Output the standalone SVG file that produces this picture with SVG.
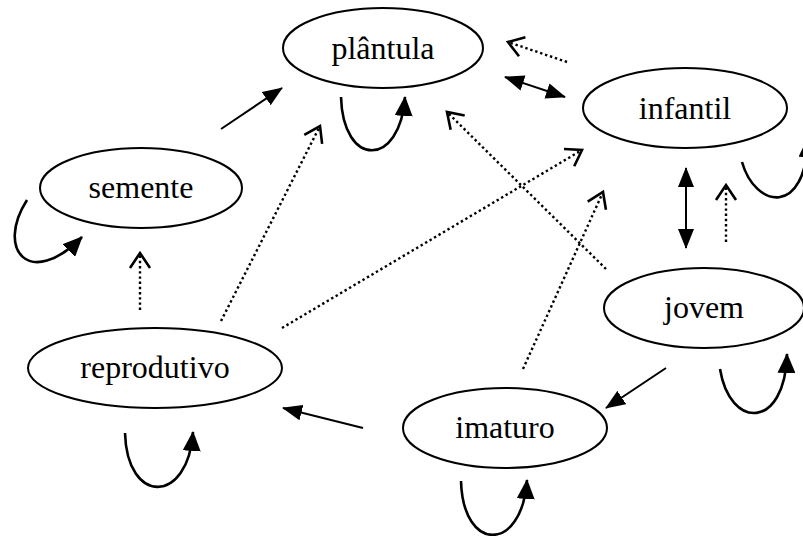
<svg xmlns="http://www.w3.org/2000/svg" width="803" height="536" viewBox="0 0 803 536">
<style>
.node ellipse{fill:#fff;stroke:#000;stroke-width:2}
.node text{font-family:"Liberation Serif","Times New Roman",serif;font-size:32px;text-anchor:middle;fill:#000}
.solid{fill:none;stroke:#000;stroke-width:2}
.loop{fill:none;stroke:#000;stroke-width:2.6}
.dot{fill:none;stroke:#000;stroke-width:2.4;stroke-dasharray:2.4 2.8}
</style>
<defs>
<marker id="fa" markerUnits="userSpaceOnUse" markerWidth="20" markerHeight="16" refX="19" refY="8" orient="auto-start-reverse" viewBox="0 0 20 16">
<path d="M0,0 L20,8 L0,16 z" fill="#000"/>
</marker>
<marker id="la" markerUnits="userSpaceOnUse" markerWidth="20" markerHeight="18" refX="19" refY="9" orient="auto" viewBox="0 0 20 18">
<path d="M0,0 L20,9 L0,18 z" fill="#000"/>
</marker>
<marker id="oa" markerUnits="userSpaceOnUse" markerWidth="22" markerHeight="24" refX="17" refY="12" orient="auto" viewBox="0 0 22 24">
<path d="M2,2 L17,12 L2,22" fill="none" stroke="#000" stroke-width="2.6"/>
</marker>
</defs>
<g id="connectors">
<line class="solid" x1="221" y1="129" x2="282" y2="88" marker-end="url(#fa)"/>
<line class="solid" x1="505" y1="77" x2="565" y2="97" marker-start="url(#fa)" marker-end="url(#fa)"/>
<line class="solid" x1="686" y1="168" x2="686" y2="248" marker-start="url(#fa)" marker-end="url(#fa)"/>
<line class="solid" x1="666" y1="368" x2="606" y2="408" marker-end="url(#fa)"/>
<line class="solid" x1="363" y1="428" x2="283" y2="408" marker-end="url(#fa)"/>
<line class="dot" x1="567" y1="62" x2="508" y2="42" marker-end="url(#oa)"/>
<line class="dot" x1="726" y1="242" x2="726" y2="185" marker-end="url(#oa)"/>
<line class="dot" x1="140" y1="310" x2="140" y2="253" marker-end="url(#oa)"/>
<line class="dot" x1="221" y1="321" x2="320" y2="126" marker-end="url(#oa)"/>
<line class="dot" x1="282" y1="328" x2="582" y2="150" marker-end="url(#oa)"/>
<line class="dot" x1="606" y1="269" x2="447" y2="112" marker-end="url(#oa)"/>
<line class="dot" x1="523" y1="369" x2="603" y2="192" marker-end="url(#oa)"/>
<path class="loop" d="M341,97 C343,168 400,168 405,97" marker-end="url(#la)"/>
<path class="loop" d="M742,162 C755,208 806,218 808,138" marker-end="url(#la)"/>
<path class="loop" d="M27,200 C-5,250 30,290 82,237" marker-end="url(#la)"/>
<path class="loop" d="M125,433 C127,505 188,505 193,432" marker-end="url(#la)"/>
<path class="loop" d="M461,481 C463,553 522,553 527,480" marker-end="url(#la)"/>
<path class="loop" d="M720,369 C730,430 785,430 787,354" marker-end="url(#la)"/>
</g>
<g id="plantula" class="node"><ellipse cx="383" cy="48" rx="100" ry="40"/><text x="383" y="59">plântula</text></g>
<g id="infantil" class="node"><ellipse cx="685" cy="108" rx="102" ry="40"/><text x="685" y="119">infantil</text></g>
<g id="semente" class="node"><ellipse cx="141" cy="188" rx="101" ry="40"/><text x="141" y="198">semente</text></g>
<g id="jovem" class="node"><ellipse cx="704" cy="308" rx="100" ry="40"/><text x="704" y="318">jovem</text></g>
<g id="reprodutivo" class="node"><ellipse cx="155" cy="368" rx="127" ry="40"/><text x="155" y="378">reprodutivo</text></g>
<g id="imaturo" class="node"><ellipse cx="505" cy="428" rx="102" ry="40"/><text x="505" y="438">imaturo</text></g>
</svg>
